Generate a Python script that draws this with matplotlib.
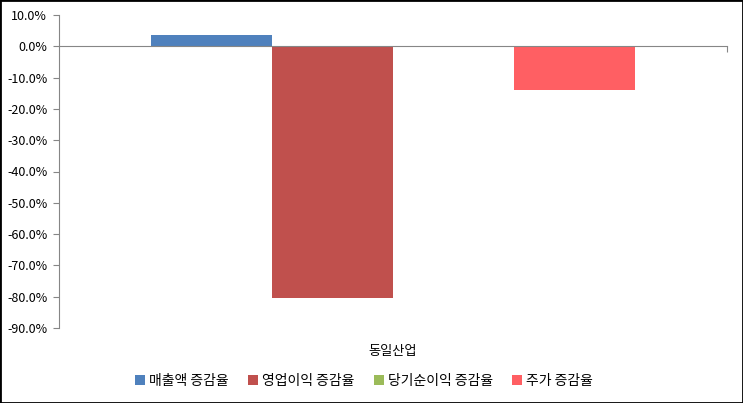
import numpy as np
import matplotlib.pyplot as plt
from matplotlib.ticker import FuncFormatter, MultipleLocator
from matplotlib.patches import Rectangle

plt.rcParams['font.family'] = ['Noto Sans CJK KR', 'DejaVu Sans']

categories = ['동일산업']
series_names = ['매출액 증감율', '영업이익 증감율', '당기순이익 증감율', '주가 증감율']
series_values = [3.6, -80.4, 0.0, -13.9]
colors = ['#4F81BD', '#C0504D', '#9BBB59', '#FF5F63']

fig = plt.figure(figsize=(7.43, 4.03), dpi=100)
fig.patches.append(Rectangle((0, 0), 1, 1, transform=fig.transFigure, fill=False,
                             edgecolor='black', linewidth=2))
ax = fig.add_axes([59 / 743, 75 / 403, 668 / 743, 313 / 403])

x = np.arange(len(categories))
w = 121 / 668
handles = []
for i, (name, val, c) in enumerate(zip(series_names, series_values, colors)):
    b = ax.bar(x + (i - 1.5) * w, [val], width=w, color=c, label=name)
    handles.append(b)

ax.set_xlim(-0.5, 0.5)
ax.set_ylim(-90, 10)
ax.yaxis.set_major_locator(MultipleLocator(10))
ax.yaxis.set_major_formatter(FuncFormatter(lambda v, p: f'{v:.1f}%'))
ax.tick_params(axis='y', labelsize=9, length=4.5, color='#868686', pad=4)

for s in ['top', 'right']:
    ax.spines[s].set_visible(False)
ax.spines['left'].set_color('#868686')
ax.spines['bottom'].set_position(('data', 0))
ax.spines['bottom'].set_color('#868686')
ax.set_xticks([0.5])
ax.set_xticklabels([])
ax.tick_params(axis='x', length=4.5, color='#868686')

for xi, cat in zip(x, categories):
    ax.text(xi, -0.075, cat, transform=ax.get_xaxis_transform(), ha='center', va='center', fontsize=9.5)

fig.legend(handles=handles, labels=series_names, loc='center', bbox_to_anchor=(0.49, 1 - 381 / 403),
           ncol=4, frameon=False, fontsize=10, handlelength=0.7, handleheight=0.7,
           handletextpad=0.3, columnspacing=1.4)

fig.savefig('out.png', dpi=100)
